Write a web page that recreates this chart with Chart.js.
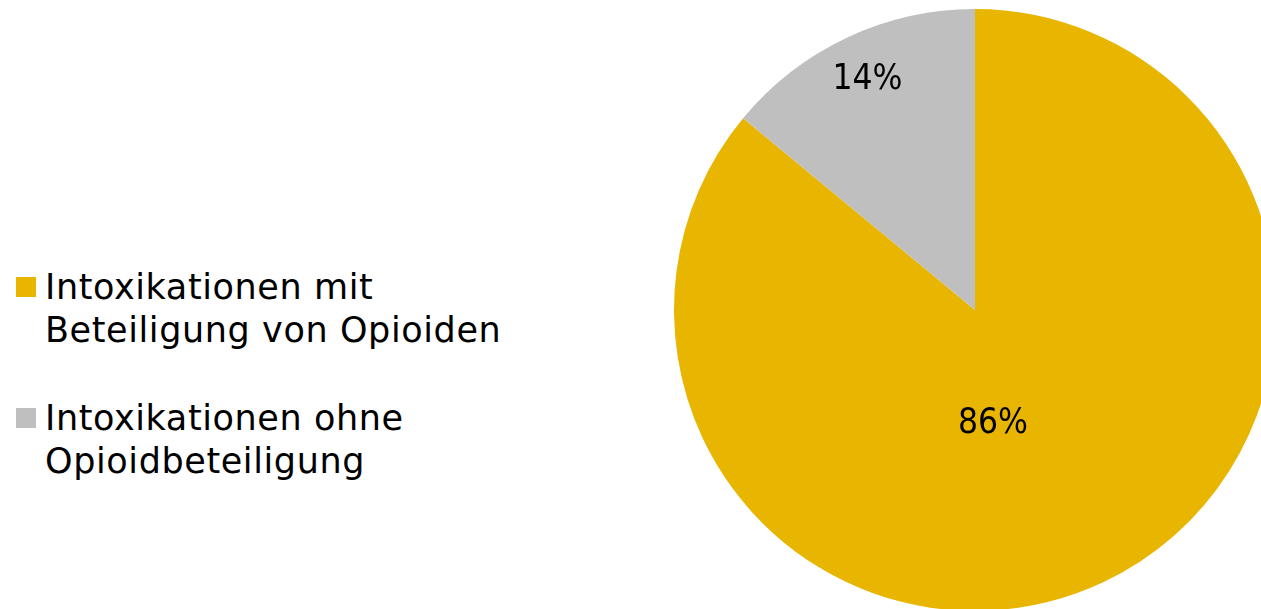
<!DOCTYPE html>
<html>
<head>
<meta charset="utf-8">
<script src="https://cdn.jsdelivr.net/npm/chart.js@4"></script>
<style>
  html, body { margin: 0; padding: 0; width: 1261px; height: 609px; overflow: hidden; background: #fff; }
  #wrap { position: absolute; left: 674px; top: 9px; width: 602px; height: 602px; }
  #legend { position: absolute; left: 16px; top: 266px; font-family: "DejaVu Sans", sans-serif; font-size: 35px; letter-spacing: 0.6px; line-height: 43px; color: #000; }
  .item { position: relative; padding-left: 29px; margin-bottom: 45px; white-space: nowrap; }
  .box { position: absolute; left: 0; top: 11px; width: 20px; height: 20px; }
</style>
</head>
<body>
<div id="legend"></div>
<div id="wrap"><canvas id="pie"></canvas></div>
<script>
let labels = [['Intoxikationen mit', 'Beteiligung von Opioiden'], ['Intoxikationen ohne', 'Opioidbeteiligung']];
let values = [86, 14];
let colors = ['#E8B500', '#BFBFBF'];

// label spots: fraction of radius, angle in degrees clockwise from top
let labelSpots = [[0.383, 171], [0.845, 335]];

let legend = document.getElementById('legend');
labels.forEach((lines, i) => {
    let div = document.createElement('div');
    div.className = 'item';
    div.innerHTML = '<span class="box" style="background:' + colors[i] + '"></span>' + lines.join('<br>');
    legend.appendChild(div);
});

const pctLabels = {
    id: 'pctLabels',
    afterDatasetsDraw(chart) {
        let ctx = chart.ctx;
        let meta = chart.getDatasetMeta(0);
        ctx.save();
        ctx.font = '35px "DejaVu Sans Condensed", "DejaVu Sans", sans-serif';
        ctx.fillStyle = '#000';
        ctx.textAlign = 'center';
        ctx.textBaseline = 'middle';
        meta.data.forEach((arc, i) => {
            let r = arc.outerRadius * labelSpots[i][0];
            let a = labelSpots[i][1] * Math.PI / 180;
            let x = arc.x + r * Math.sin(a);
            let y = arc.y - r * Math.cos(a);
            ctx.fillText(values[i] + '%', x, y);
        });
        ctx.restore();
    }
};

let ctx = document.getElementById('pie');
let pieChart = new Chart(ctx, {
    type: 'pie',
    data: {
        labels: labels.map(l => l.join(' ')),
        datasets: [{
            data: values,
            backgroundColor: colors,
            borderWidth: 0
        }]
    },
    options: {
        responsive: true,
        maintainAspectRatio: false,
        animation: false,
        layout: { padding: 0 },
        plugins: {
            legend: { display: false },
            tooltip: { enabled: false }
        }
    },
    plugins: [pctLabels]
});
</script>
</body>
</html>
